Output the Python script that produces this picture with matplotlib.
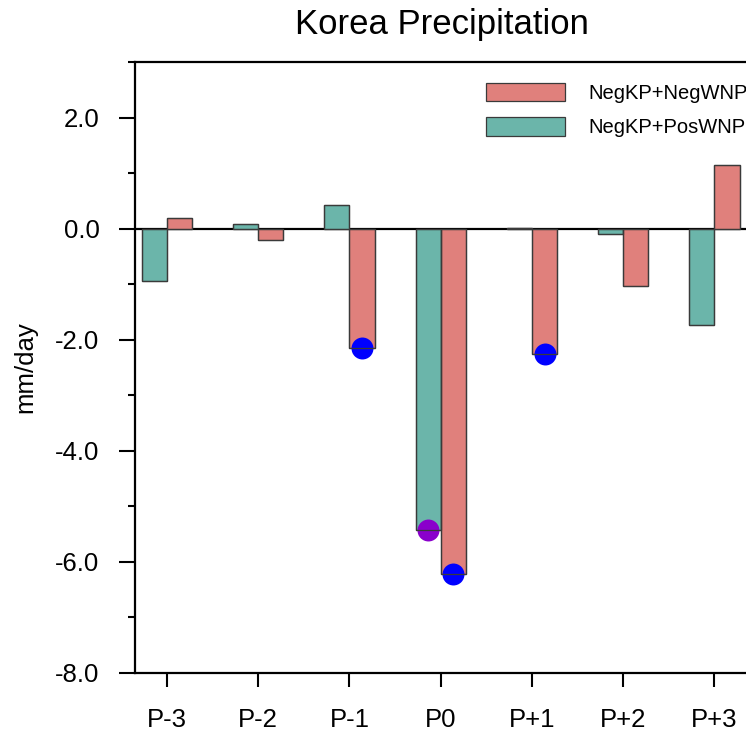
import numpy as np
import matplotlib
matplotlib.use("Agg")
import matplotlib.pyplot as plt
from matplotlib.ticker import MultipleLocator, FormatStrFormatter

plt.rcParams["font.family"] = ["Liberation Sans", "DejaVu Sans"]

# ---- data ----
phases = ["P-3", "P-2", "P-1", "P0", "P+1", "P+2", "P+3"]
neg_wnp = [0.20, -0.20, -2.15, -6.22, -2.25, -1.04, 1.15]    # NegKP+NegWNP (red)
pos_wnp = [-0.95, 0.08, 0.43, -5.43, 0.01, -0.10, -1.74]     # NegKP+PosWNP (teal)
sig_neg = [False, False, True, True, True, False, False]     # blue dots
sig_pos = [False, False, False, True, False, False, False]   # purple dots

RED, TEAL, EDGE = "#e0807c", "#6bb5aa", "#3a3a3a"
x = np.arange(len(phases))
w = 0.275

fig = plt.figure(figsize=(7.46, 7.35), dpi=100)
ax = fig.add_axes([0.181, 0.0844, 0.822, 0.8312])

ax.axhline(0, color="black", lw=1.6, zorder=1)
ax.bar(x - w / 2, pos_wnp, w, color=TEAL, edgecolor=EDGE, lw=0.9, zorder=2, label="NegKP+PosWNP")
ax.bar(x + w / 2, neg_wnp, w, color=RED, edgecolor=EDGE, lw=0.9, zorder=2, label="NegKP+NegWNP")

# significance dots at the bar ends, bar edges redrawn on top
xs_n = [xi + w / 2 for xi, s in zip(x, sig_neg) if s]
ys_n = [v for v, s in zip(neg_wnp, sig_neg) if s]
xs_p = [xi - w / 2 for xi, s in zip(x, sig_pos) if s]
ys_p = [v for v, s in zip(pos_wnp, sig_pos) if s]
ax.scatter(xs_n, ys_n, s=250, color="#0000ff", lw=0, zorder=3)
ax.scatter(xs_p, ys_p, s=250, color="#8a00cc", lw=0, zorder=3)
ax.bar(x - w / 2, pos_wnp, w, fill=False, edgecolor=EDGE, lw=0.9, zorder=4)
ax.bar(x + w / 2, neg_wnp, w, fill=False, edgecolor=EDGE, lw=0.9, zorder=4)

ax.set_xlim(-0.35, 6.37)
ax.set_ylim(-8, 3)
ax.set_xticks(x)
ax.set_xticklabels(phases)
ax.yaxis.set_major_locator(MultipleLocator(2))
ax.yaxis.set_minor_locator(MultipleLocator(1))
ax.yaxis.set_major_formatter(FormatStrFormatter("%.1f"))
ax.tick_params(axis="x", direction="out", length=10, width=1.5, pad=15, labelsize=18.5, top=False)
ax.tick_params(axis="y", which="major", direction="out", length=11.5, width=1.5, pad=14, labelsize=18.5, right=False)
ax.tick_params(axis="y", which="minor", direction="out", length=5, width=1.5, right=False)
for sp in ax.spines.values():
    sp.set_linewidth(1.6)

ax.set_ylabel("mm/day", fontsize=18.5, labelpad=13)
ax.set_title("Korea Precipitation", fontsize=25, pad=20)

h, l = ax.get_legend_handles_labels()
ax.legend(h[::-1], l[::-1], loc="upper left", bbox_to_anchor=(0.573, 0.966), frameon=False,
          fontsize=14.5, handlelength=3.9, handleheight=1.05, labelspacing=0.7,
          handletextpad=1.15, borderpad=0, borderaxespad=0)

fig.savefig("out.png", dpi=100)
